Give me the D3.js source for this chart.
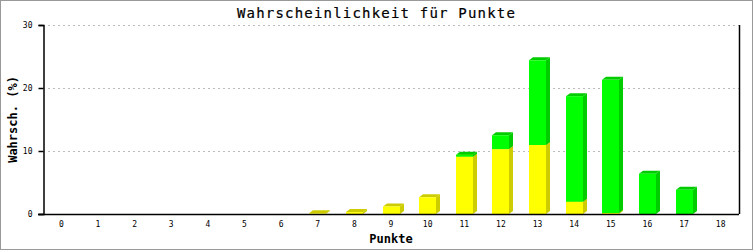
<!DOCTYPE html>
<html>
<head>
<meta charset="utf-8">
<script src="https://cdn.jsdelivr.net/npm/d3@7"></script>
<style>
  body { margin: 0; background: #fff; }
  svg { display: block; }
  text { font-family: "DejaVu Sans Mono", monospace; }
</style>
</head>
<body>
<div class="container"></div>
<script>
// Punkte 0..18, two stacked series (yellow below, green on top), in percent
const punkte = d3.range(0, 19).map(String);
const gelb  = [0, 0, 0, 0, 0, 0, 0, 0.1, 0.3, 1.2, 2.65, 9.1, 10.3, 10.95, 1.95, 0.15, 0, 0, 0];
const gruen = [0, 0, 0, 0, 0, 0, 0, 0, 0, 0, 0, 0.3, 2.2, 13.45, 16.75, 21.15, 6.4, 3.85, 0];
const yTicks = [0, 10, 20, 30];

const width = 753, height = 250;
const margin = {top: 25, right: 14, bottom: 36, left: 43};
const depthX = 4, depthY = 3;

const rows = punkte.map((p, i) => ({punkt: p, gelb: gelb[i], gruen: gruen[i]}));
const series = d3.stack().keys(["gelb", "gruen"])(rows);
const colors = {gelb: {front: "#ffff00", dark: "#cccc00"},
                gruen: {front: "#00ff00", dark: "#00cc00"}};

const svg = d3.select(".container")
              .append("svg")
              .attr("width", width)
              .attr("height", height);

const x = d3.scaleBand()
            .domain(punkte)
            .range([margin.left, width - margin.right]);
const y = d3.scaleLinear()
            .domain([0, 30])
            .range([height - margin.bottom, margin.top]);
const barW = Math.round(x.bandwidth() * 0.465);

// outer frame
svg.append("rect")
   .attr("x", 0.5).attr("y", 0.5)
   .attr("width", width - 1).attr("height", height - 1)
   .attr("fill", "none")
   .attr("stroke", "#999");

// dotted grid
svg.selectAll(".grid")
   .data(yTicks.filter(d => d > 0))
   .join("line")
   .attr("class", "grid")
   .attr("x1", margin.left + 5)
   .attr("x2", width - margin.right)
   .attr("y1", d => Math.round(y(d)) + 0.5)
   .attr("y2", d => Math.round(y(d)) + 0.5)
   .attr("stroke", "#bbb")
   .attr("stroke-dasharray", "2,3");

// bars, segment by segment: side face, top face, front
const bars = svg.append("g");
series.forEach(s => {
    const c = colors[s.key];
    s.forEach(d => {
        const h = y(d[0]) - y(d[1]);
        if (h <= 0) return;
        const x0 = Math.round(x(d.data.punkt) + (x.bandwidth() - barW) / 2);
        const x1 = x0 + barW;
        const yt = y(d[1]), yb = y(d[0]);
        bars.append("path")
            .attr("d", `M${x1},${yb}L${x1 + depthX},${yb - depthY}L${x1 + depthX},${yt - depthY}L${x1},${yt}Z`)
            .attr("fill", c.dark);
        bars.append("path")
            .attr("d", `M${x0},${yt}L${x0 + depthX},${yt - depthY}L${x1 + depthX},${yt - depthY}L${x1},${yt}Z`)
            .attr("fill", c.dark);
        bars.append("rect")
            .attr("x", x0)
            .attr("y", yt)
            .attr("width", barW)
            .attr("height", h)
            .attr("fill", c.front);
    });
});

// axes
const yAxis = svg.append("g")
                 .attr("transform", `translate(${margin.left + 0.5},0)`)
                 .call(d3.axisLeft(y).tickValues(yTicks).tickSize(5).tickPadding(6));
const xAxis = svg.append("g")
                 .attr("transform", `translate(0,${Math.round(y(0)) + 0.5})`)
                 .call(d3.axisBottom(x).tickSize(0).tickPadding(7));
[yAxis, xAxis].forEach(a => {
    a.selectAll("path, line").attr("stroke", "#000").attr("stroke-width", 1.5);
    a.selectAll("text").attr("font-size", 8).attr("fill", "#000")
     .style("font-family", "'DejaVu Sans Mono', monospace");
});
xAxis.select(".domain")
     .attr("d", `M${margin.left - 5},0H${width - margin.right}`);

// right border of plot
svg.append("line")
   .attr("x1", width - margin.right + 0.5)
   .attr("x2", width - margin.right + 0.5)
   .attr("y1", y(30))
   .attr("y2", y(0))
   .attr("stroke", "#000")
   .attr("stroke-width", 1.5);

// title and axis labels
svg.append("text")
   .attr("x", width / 2)
   .attr("y", 18)
   .attr("text-anchor", "middle")
   .attr("font-size", 14)
   .attr("letter-spacing", 1.2)
   .attr("fill", "#000")
   .attr("stroke", "#000")
   .attr("stroke-width", 0.2)
   .text("Wahrscheinlichkeit für Punkte");
svg.append("text")
   .attr("x", (margin.left + width - margin.right) / 2)
   .attr("y", 243)
   .attr("text-anchor", "middle")
   .attr("font-size", 12)
   .attr("font-weight", "bold")
   .text("Punkte");
svg.append("text")
   .attr("transform", `translate(17,${y(15)}) rotate(-90)`)
   .attr("text-anchor", "middle")
   .attr("font-size", 12)
   .attr("font-weight", "bold")
   .text("Wahrsch. (%)");
</script>
</body>
</html>
